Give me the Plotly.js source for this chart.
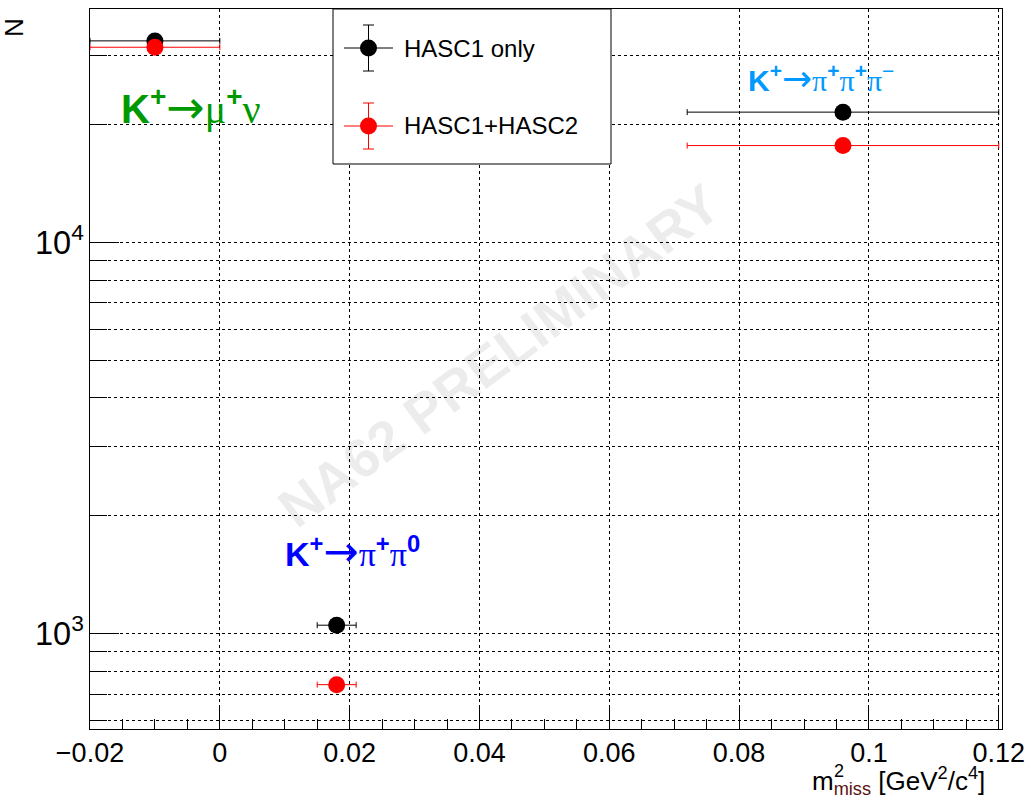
<!DOCTYPE html>
<html><head><meta charset="utf-8">
<script src="https://cdn.plot.ly/plotly-3.0.1.min.js"></script>
<style>html,body{margin:0;padding:0;background:#fff;}#chart{width:1032px;height:803px;}</style>
</head><body><div id="chart"></div>
<script>
// ---- data ----
const decays = ["K+→μ+ν", "K+→π+π0", "K+→π+π+π−"];
const mmissCenter = [-0.01, 0.018, 0.096];          // GeV^2/c^4
const mmissHalfWidth = [0.01, 0.003, 0.024];
const nHasc1Only = [32700, 1050, 21500];
const nHasc1Hasc2 = [31500, 740, 17660];
const seriesNames = ["HASC1 only", "HASC1+HASC2"];
const seriesColors = ["#000000", "#ff0000"];
const xRange = [-0.02, 0.1205];
const yRange = [570, 39450];

// ---- geometry ----
const W = 1032, H = 803, L = 90, R = 30, T = 9, B = 74;
const pw = W - L - R, ph = H - T - B;
const fx = px => (px - L) / pw;
const fy = py => 1 - (py - T) / ph;
const FONT = "Liberation Sans, Arial, Helvetica, sans-serif";
const SERIF = "Liberation Serif, Times New Roman, serif";

function trace(i, yvals) {
  return {
    type: "scatter", mode: "markers", name: seriesNames[i],
    x: mmissCenter, y: yvals, text: decays,
    marker: {color: seriesColors[i], size: 17},
    error_x: {type: "data", array: mmissHalfWidth, color: seriesColors[i], thickness: 1, width: 3},
    cliponaxis: false, showlegend: false
  };
}
const data = [trace(0, nHasc1Only), trace(1, nHasc1Hasc2)];

// ---- custom ROOT-like legend ----
const shapes = [];
const annotations = [];
shapes.push({type: "rect", xref: "paper", yref: "paper", x0: fx(333), x1: fx(611), y0: fy(164), y1: fy(9),
  line: {color: "black", width: 1}, fillcolor: "white", layer: "above"});
const legRows = [48, 126];
legRows.forEach((yy, i) => {
  const c = seriesColors[i], cx = 368.5;
  const seg = (x0, y0, x1, y1) => shapes.push({type: "line", xref: "paper", yref: "paper",
    x0: fx(x0), y0: fy(y0), x1: fx(x1), y1: fy(y1), line: {color: c, width: 1}, layer: "above"});
  seg(344, yy, 393, yy);
  seg(cx, yy - 23, cx, yy + 23);
  seg(cx - 5.5, yy - 23, cx + 5.5, yy - 23);
  seg(cx - 5.5, yy + 23, cx + 5.5, yy + 23);
  shapes.push({type: "circle", xref: "paper", yref: "paper", xsizemode: "pixel", ysizemode: "pixel",
    xanchor: fx(cx), yanchor: fy(yy), x0: -8.5, x1: 8.5, y0: -8.5, y1: 8.5,
    fillcolor: c, line: {width: 0}, layer: "above"});
  annotations.push({xref: "paper", yref: "paper", x: fx(402), y: fy(yy), xanchor: "left", yanchor: "middle",
    text: seriesNames[i], showarrow: false, font: {family: FONT, size: 24, color: "black"}});
});

// watermark
annotations.push({xref: "paper", yref: "paper", x: fx(499), y: fy(356), xanchor: "center", yanchor: "middle",
  text: "<b>NA62 PRELIMINARY</b>", textangle: -36.6, showarrow: false,
  font: {family: FONT, size: 55, color: "rgba(0,0,0,0.075)"}});

// decay labels
const arrow = sz => '<span style="font-family:DejaVu Sans;font-size:' + sz + 'px">→</span>';
const gr = s => '<span style="font-family:' + SERIF + '">' + s + '</span>';
annotations.push({xref: "paper", yref: "paper", x: fx(119), y: fy(107), xanchor: "left", yanchor: "middle",
  text: '<b>K<sup>+</sup></b>' + arrow(46) + gr('μ') + '<b><sup>+</sup></b>' + gr('ν'),
  showarrow: false, font: {family: FONT, size: 40, color: "#009900"}});
annotations.push({xref: "paper", yref: "paper", x: fx(283), y: fy(551), xanchor: "left", yanchor: "middle",
  text: '<b>K<sup>+</sup></b>' + arrow(42) + gr('π') + '<b><sup>+</sup></b>' + gr('π') + '<b><sup>0</sup></b>',
  showarrow: false, font: {family: FONT, size: 34, color: "#0000ff"}});
annotations.push({xref: "paper", yref: "paper", x: fx(746), y: fy(79), xanchor: "left", yanchor: "middle",
  text: '<b>K<sup>+</sup></b>' + arrow(36) + gr('π') + '<b><sup>+</sup></b>' + gr('π') + '<b><sup>+</sup></b>' + gr('π') + '<sup>−</sup>',
  showarrow: false, font: {family: FONT, size: 30, color: "#0099ff"}});

// axis titles
annotations.push({xref: "paper", yref: "paper", x: fx(13.5), y: fy(27.5), xanchor: "center", yanchor: "middle",
  text: "N", textangle: -90, showarrow: false, font: {family: FONT, size: 26, color: "black"}});
annotations.push({xref: "paper", yref: "paper", x: fx(987), y: fy(781), xanchor: "right", yanchor: "middle",
  text: 'm<sub><span style="color:#5a1010">miss</span></sub> [GeV<sup>2</sup>/c<sup>4</sup>]', showarrow: false,
  font: {family: FONT, size: 26, color: "black"}});
annotations.push({xref: "paper", yref: "paper", x: fx(832), y: fy(771), xanchor: "left", yanchor: "middle",
  text: "2", showarrow: false, font: {family: FONT, size: 18, color: "black"}});

const grid = {showgrid: true, gridcolor: "black", gridwidth: 1, griddash: "3px,3px"};
const layout = {
  width: W, height: H, margin: {l: L, r: R, t: T, b: B, pad: 0},
  paper_bgcolor: "white", plot_bgcolor: "white", showlegend: false,
  font: {family: FONT, color: "black"},
  xaxis: Object.assign({
    range: xRange, tickmode: "linear", tick0: 0, dtick: 0.02,
    ticks: "inside", ticklen: 22, tickwidth: 1, tickcolor: "black",
    minor: {dtick: 0.005, tick0: 0, ticks: "inside", ticklen: 10, tickwidth: 1, tickcolor: "black", showgrid: false},
    showline: true, linecolor: "black", linewidth: 1, mirror: true, zeroline: false,
    tickfont: {family: FONT, size: 27, color: "black"}
  }, grid),
  yaxis: Object.assign({
    type: "log", range: [Math.log10(yRange[0]), Math.log10(yRange[1])],
    tickmode: "linear", tick0: 0, dtick: 1, exponentformat: "power",
    ticks: "inside", ticklen: 29, tickwidth: 1, tickcolor: "black",
    minor: Object.assign({dtick: "D1", ticks: "inside", ticklen: 17, tickwidth: 1, tickcolor: "black"}, grid),
    showline: true, linecolor: "black", linewidth: 1, mirror: true, zeroline: false,
    tickfont: {family: FONT, size: 26, color: "black"}
  }, grid),
  shapes: shapes, annotations: annotations
};
Plotly.newPlot("chart", data, layout, {displayModeBar: false, staticPlot: true});
</script></body></html>
